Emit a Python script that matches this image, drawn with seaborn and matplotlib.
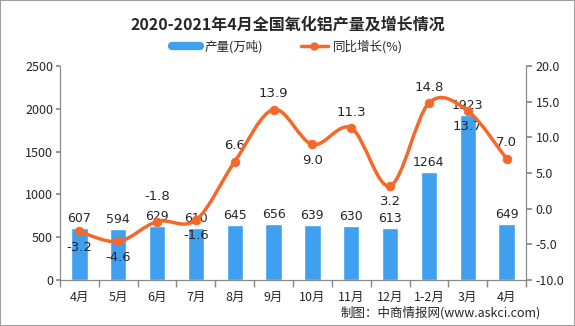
import numpy as np
import pandas as pd
import matplotlib
matplotlib.use("Agg")
import matplotlib.pyplot as plt
from matplotlib.path import Path
from matplotlib.patches import PathPatch, Rectangle
from matplotlib.lines import Line2D
import seaborn as sns

categories = ["4月", "5月", "6月", "7月", "8月", "9月", "10月", "11月", "12月", "1-2月", "3月", "4月"]
output = [607, 594, 629, 610, 645, 656, 639, 630, 613, 1264, 1923, 649]
growth = [-3.2, -4.6, -1.8, -1.6, 6.6, 13.9, 9.0, 11.3, 3.2, 14.8, 13.7, 7.0]
growth_label_above = [False, False, True, False, True, True, False, True, False, True, False, True]

sns.set_theme(style="white")
plt.rcParams['font.family'] = ['Noto Sans CJK SC', 'DejaVu Sans']
plt.rcParams['axes.unicode_minus'] = False

BAR = "#3FA0F0"
LINE = "#F4692A"
GRID = "#888888"

fig = plt.figure(figsize=(5.75, 3.26), dpi=100)
ax = fig.add_axes([60/575, 46/326, 466/575, 214/326])
ax2 = ax.twinx()

df = pd.DataFrame({"cat": range(len(categories)), "val": output})
sns.barplot(data=df, x="cat", y="val", color=BAR, width=0.42, ax=ax, saturation=1, native_scale=False)
ax.set_xlim(-0.5, len(categories) - 0.5)
ax.set_ylim(0, 2500)
ax.set_yticks(range(0, 2501, 500))
ax.set_xticks(range(len(categories)))
ax.set_xticklabels(categories, fontsize=9)
ax.set_xlabel("")
ax.set_ylabel("")
ax.tick_params(axis='x', length=0, pad=8)
ax.tick_params(axis='y', labelsize=9, length=3, color=GRID, left=True, pad=2)
ax.set_xticks(np.arange(-0.5, len(categories), 1.0), minor=True)
ax.tick_params(axis='x', which='minor', length=5, color=GRID, bottom=True, direction='out')

for i, v in enumerate(output):
    ax.text(i, v + 35, str(v), ha='center', va='bottom', fontsize=9, family='DejaVu Sans')

ax2.set_ylim(-10, 20)
ax2.set_yticks(np.arange(-10, 20.1, 5))
ax2.set_yticklabels([f"{t:.1f}" for t in np.arange(-10, 20.1, 5)], fontsize=9)
ax2.tick_params(axis='y', labelsize=9, length=4, color=GRID, right=True, pad=3)
ax2.grid(False)
ax.grid(False)

for a in (ax, ax2):
    a.spines['top'].set_visible(False)
    for s in ('left', 'right', 'bottom'):
        a.spines[s].set_color(GRID)
        a.spines[s].set_linewidth(0.8)

# smooth (Catmull-Rom -> cubic Bezier) line through data points
xs = np.arange(len(growth), dtype=float)
ys = np.array(growth, dtype=float)
px = np.concatenate([[xs[0]], xs, [xs[-1]]])
py = np.concatenate([[ys[0]], ys, [ys[-1]]])
verts = [(xs[0], ys[0])]
codes = [Path.MOVETO]
for i in range(1, len(px) - 2):
    p0 = np.array([px[i-1], py[i-1]]); p1 = np.array([px[i], py[i]])
    p2 = np.array([px[i+1], py[i+1]]); p3 = np.array([px[i+2], py[i+2]])
    c1 = p1 + (p2 - p0) / 6.0
    c2 = p2 - (p3 - p1) / 6.0
    verts += [tuple(c1), tuple(c2), tuple(p2)]
    codes += [Path.CURVE4] * 3
ax2.add_patch(PathPatch(Path(verts, codes), facecolor='none', edgecolor=LINE, lw=2.5, zorder=4))
sns.scatterplot(x=xs, y=ys, color=LINE, s=40, edgecolor=LINE, ax=ax2, zorder=5, legend=False)

for i, (v, up) in enumerate(zip(growth, growth_label_above)):
    if up:
        # lift a label clear of the bar value label when the two would collide
        off = 2.6 if abs((v + 10) / 30 * 2500 - output[i]) < 250 else 1.3
        ax2.text(i, v + off, f"{v:.1f}", ha='center', va='bottom', fontsize=9.5, family='DejaVu Sans')
    else:
        ax2.text(i, v - 1.3, f"{v:.1f}", ha='center', va='top', fontsize=9.5, family='DejaVu Sans')

fig.text(0.5, 1 - 25/326, "2020-2021年4月全国氧化铝产量及增长情况", ha='center', va='center',
         fontsize=11.5, fontweight='bold')

handles = [Line2D([0], [0], color=BAR, lw=6),
           Line2D([0], [0], color=LINE, lw=2.5, marker='o', markersize=5)]
fig.legend(handles, ["产量(万吨)", "同比增长(%)"], loc='center', bbox_to_anchor=(0.5, 1 - 47/326),
           ncol=2, frameon=False, fontsize=9, handlelength=2.2, columnspacing=3, handletextpad=0.4)

fig.text(541/575, 1 - 313/326, "制图：中商情报网(www.askci.com)", ha='right', va='center', fontsize=9)

fig.patches.append(Rectangle((0, 0), 1, 1, transform=fig.transFigure, fill=False,
                             edgecolor="#A0A0A0", lw=1.5))

fig.savefig("out.png", dpi=100)
